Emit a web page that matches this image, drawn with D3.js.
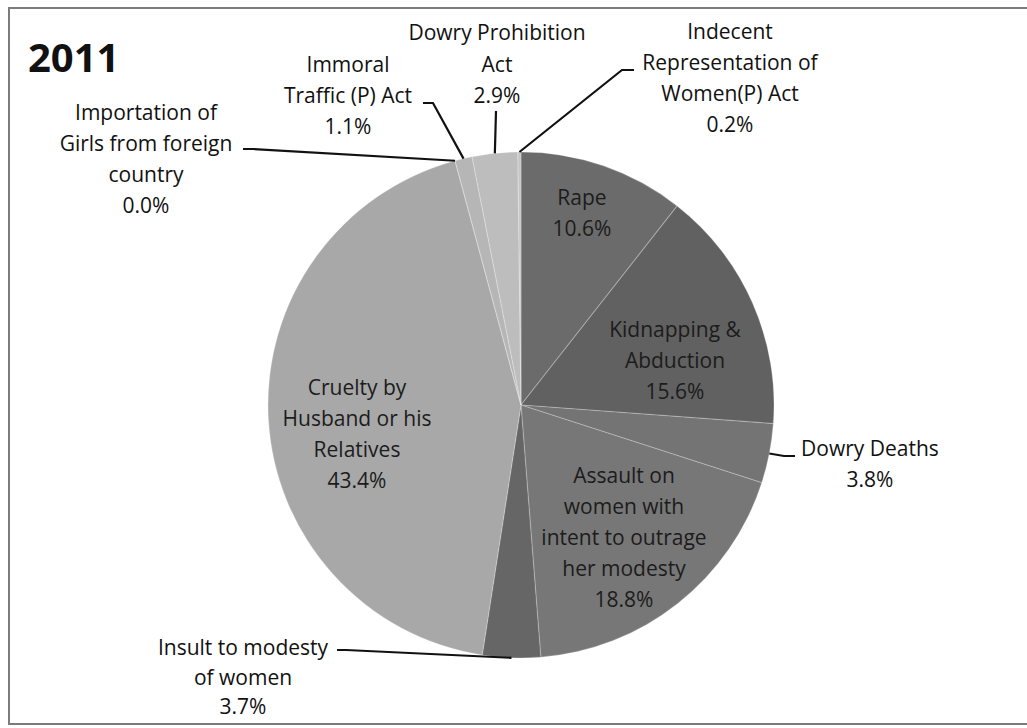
<!DOCTYPE html>
<html>
<head>
<meta charset="utf-8">
<script src="https://cdn.jsdelivr.net/npm/d3@7"></script>
<style>
  html, body { margin: 0; padding: 0; background: #ffffff; }
  svg { display: block; }
</style>
</head>
<body>
<svg id="chart" width="1027" height="728"></svg>
<script>
// ---------- data ----------
const title = "2011";
const categories = [
  "Rape",
  "Kidnapping & Abduction",
  "Dowry Deaths",
  "Assault on women with intent to outrage her modesty",
  "Insult to modesty of women",
  "Cruelty by Husband or his Relatives",
  "Importation of Girls from foreign country",
  "Immoral Traffic (P) Act",
  "Dowry Prohibition Act",
  "Indecent Representation of Women(P) Act"
];
const values = [10.6, 15.6, 3.8, 18.8, 3.7, 43.4, 0.0, 1.1, 2.9, 0.2];
const labelLines = [
  ["Rape"],
  ["Kidnapping &", "Abduction"],
  ["Dowry Deaths"],
  ["Assault on", "women with", "intent to outrage", "her modesty"],
  ["Insult to modesty", "of women"],
  ["Cruelty by", "Husband or his", "Relatives"],
  ["Importation of", "Girls from foreign", "country"],
  ["Immoral", "Traffic (P) Act"],
  ["Dowry Prohibition", "Act"],
  ["Indecent", "Representation of", "Women(P) Act"]
];
const sliceColors = ["#6b6b6b", "#616161", "#747474", "#777777", "#666666",
                     "#a8a8a8", "#b0b0b0", "#b6b6b6", "#bdbdbd", "#c6c6c6"];

// ---------- layout (label placement, not data) ----------
const W = 1027, H = 728;
const cx = 521, cy = 405, R = 253;
const lineH = 31;
// inside: position of first baseline relative to centre; outside: plus leader start/elbow
const labelLayout = [
  { inside: true,  x: 61,  y: -200 },
  { inside: true,  x: 154, y: -68 },
  { inside: false, x: 349, y: 51,  lead: [[274, 51], [263, 51]], lh: 31 },
  { inside: true,  x: 103, y: 78 },
  { inside: false, x: -278, y: 250, lead: [[-184, 245], [-175, 245]], lh: 29.5 },
  { inside: true,  x: -164, y: -10 },
  { inside: false, x: -375, y: -285, lead: [[-278, -256], [-268, -256]], lh: 31 },
  { inside: false, x: -173, y: -333, lead: [[-98, -302], [-88, -302]], lh: 31 },
  { inside: false, x: -24,  y: -365, lead: [[-25, -294], [-25, -294]], lh: 31.5 },
  { inside: false, x: 209,  y: -366, lead: [[113, -335], [101, -335]], lh: 31 }
];

const svg = d3.select("#chart");
svg.append("rect").attr("width", W).attr("height", H).attr("fill", "#ffffff");

// frame
svg.append("rect")
  .attr("x", 9).attr("y", 8)
  .attr("width", 1022).attr("height", 716)
  .attr("fill", "none")
  .attr("stroke", "#7c7c7c")
  .attr("stroke-width", 2);

// title
svg.append("text")
  .attr("x", 28).attr("y", 72)
  .attr("font-family", "'Open Sans', 'DejaVu Sans', sans-serif")
  .attr("font-weight", "bold")
  .attr("font-size", 40)
  .attr("fill", "#111")
  .text(title);

const g = svg.append("g").attr("transform", `translate(${cx},${cy})`);

const pie = d3.pie().sort(null).value(d => d);
const arcs = pie(values);
const arc = d3.arc().innerRadius(0).outerRadius(R);

g.selectAll("path.slice")
  .data(arcs)
  .join("path")
  .attr("class", "slice")
  .attr("d", arc)
  .attr("fill", (d, i) => sliceColors[i])
  .attr("stroke", "rgba(255,255,255,0.22)")
  .attr("stroke-width", 1.2);

const fmt = v => d3.format(".1f")(v) + "%";
const font = "'Open Sans', 'DejaVu Sans', sans-serif";

arcs.forEach((a, i) => {
  const L = labelLayout[i];
  const lines = labelLines[i].concat([fmt(values[i])]);
  const lh = L.lh || lineH;
  const t = g.append("text")
    .attr("font-family", font)
    .attr("font-size", 21)
    .attr("text-anchor", "middle")
    .attr("fill", L.inside ? "#1c1c1c" : "#111111");
  lines.forEach((s, k) => {
    t.append("tspan").attr("x", L.x).attr("y", L.y + k * lh).text(s);
  });
  if (!L.inside) {
    const mid = (a.startAngle + a.endAngle) / 2;
    const px = R * Math.sin(mid), py = -R * Math.cos(mid);
    const pts = [L.lead[0], L.lead[1], [px, py]];
    g.append("path")
      .attr("d", d3.line()(pts))
      .attr("fill", "none")
      .attr("stroke", "#111")
      .attr("stroke-width", 2.2);
  }
});
</script>
</body>
</html>
